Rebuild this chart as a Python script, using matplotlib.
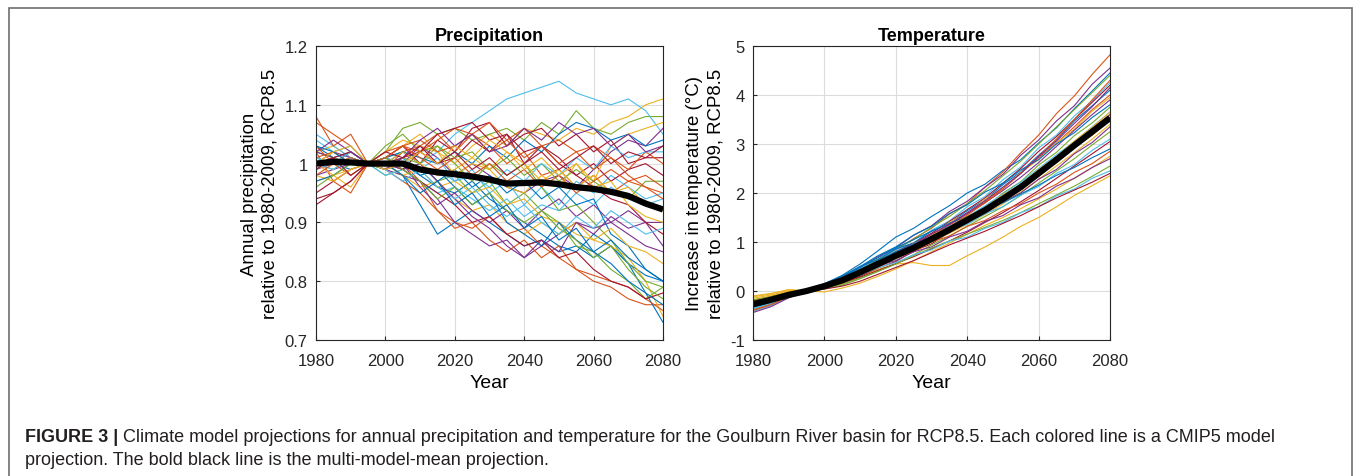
import matplotlib
matplotlib.use("Agg")
import matplotlib.pyplot as plt

plt.rcParams["font.family"] = ["Liberation Sans", "DejaVu Sans"]

# MATLAB default line colour order
COLORS = ["#0072BD", "#D95319", "#EDB120", "#7E2F8E", "#77AC30", "#4DBEEE", "#A2142F"]

years = list(range(1980, 2081, 5))

# ---- precipitation (ratio to 1980-2009), one row per CMIP5 model ----
precip_models = [
    [0.99, 1.01, 1.00, 1.00, 1.00, 0.98, 0.93, 0.88, 0.90, 0.92, 0.90, 0.88, 0.86, 0.87, 0.85, 0.86, 0.84, 0.86, 0.83, 0.81, 0.80],
    [1.07, 1.05, 1.03, 1.00, 0.99, 1.00, 0.97, 0.92, 0.90, 0.89, 0.91, 0.88, 0.89, 0.86, 0.84, 0.82, 0.80, 0.79, 0.77, 0.76, 0.76],
    [1.02, 1.03, 1.01, 1.00, 1.01, 1.03, 1.05, 1.02, 1.00, 1.03, 1.05, 1.03, 1.06, 1.05, 1.04, 1.06, 1.05, 1.07, 1.08, 1.10, 1.11],
    [0.98, 0.99, 1.00, 1.00, 0.99, 0.98, 0.97, 0.94, 0.90, 0.88, 0.86, 0.87, 0.84, 0.86, 0.88, 0.90, 0.89, 0.90, 0.88, 0.86, 0.85],
    [1.01, 1.00, 1.02, 1.00, 1.02, 1.06, 1.07, 1.05, 1.06, 1.04, 1.05, 1.06, 1.04, 1.07, 1.05, 1.09, 1.06, 1.05, 1.07, 1.08, 1.08],
    [1.05, 1.03, 1.01, 1.00, 1.01, 1.02, 1.00, 1.02, 1.05, 1.07, 1.09, 1.11, 1.12, 1.13, 1.14, 1.12, 1.11, 1.10, 1.11, 1.09, 1.05],
    [0.94, 0.95, 0.97, 1.00, 1.01, 1.03, 1.00, 1.04, 1.02, 1.06, 1.07, 1.03, 1.05, 1.06, 1.03, 1.05, 1.02, 1.04, 1.00, 1.01, 1.01],
    [1.03, 1.01, 1.02, 1.00, 0.99, 1.01, 0.98, 0.96, 0.95, 0.97, 0.94, 0.92, 0.90, 0.88, 0.86, 0.85, 0.88, 0.86, 0.83, 0.78, 0.73],
    [1.08, 1.03, 1.05, 1.00, 0.99, 1.02, 1.03, 1.05, 1.02, 1.05, 1.03, 1.00, 1.02, 0.98, 0.99, 0.96, 0.98, 0.95, 0.97, 0.96, 0.95],
    [0.97, 0.98, 0.96, 1.00, 1.00, 0.98, 0.96, 0.97, 0.94, 0.92, 0.93, 0.90, 0.88, 0.90, 0.88, 0.90, 0.87, 0.86, 0.84, 0.80, 0.74],
    [1.00, 1.02, 1.01, 1.00, 1.01, 1.00, 1.03, 1.01, 0.98, 1.00, 0.98, 0.96, 0.95, 0.97, 0.98, 0.96, 0.99, 1.02, 1.04, 1.03, 1.06],
    [1.00, 0.99, 1.01, 1.00, 0.98, 0.99, 1.00, 0.97, 0.98, 0.95, 0.97, 0.93, 0.95, 0.92, 0.90, 0.86, 0.85, 0.82, 0.80, 0.77, 0.79],
    [1.04, 1.02, 1.03, 1.00, 1.00, 1.01, 0.99, 1.01, 0.97, 0.99, 0.95, 0.97, 0.93, 0.96, 0.93, 0.97, 0.95, 0.98, 0.96, 0.94, 0.95],
    [0.93, 0.95, 0.97, 1.00, 1.01, 0.99, 1.02, 1.00, 1.01, 1.04, 1.02, 1.05, 1.00, 1.03, 1.01, 0.98, 1.00, 0.97, 0.99, 1.00, 0.98],
    [1.01, 1.00, 0.99, 1.00, 1.01, 1.02, 1.01, 1.00, 1.02, 1.00, 1.03, 1.01, 1.04, 1.02, 1.05, 1.07, 1.06, 1.04, 1.05, 1.03, 1.04],
    [1.02, 0.97, 0.95, 1.00, 0.99, 0.97, 0.95, 0.92, 0.89, 0.90, 0.87, 0.85, 0.87, 0.84, 0.86, 0.82, 0.81, 0.80, 0.79, 0.77, 0.75],
    [1.00, 1.02, 1.00, 1.00, 1.02, 1.04, 1.03, 1.02, 0.98, 1.00, 0.99, 0.96, 0.95, 0.98, 0.96, 1.00, 0.97, 1.03, 1.05, 1.06, 1.07],
    [0.99, 1.00, 1.02, 1.00, 0.99, 1.00, 0.96, 0.93, 0.95, 0.92, 0.90, 0.92, 0.89, 0.92, 0.94, 0.91, 0.93, 0.90, 0.92, 0.90, 0.90],
    [1.02, 1.01, 1.00, 1.00, 1.03, 1.05, 1.02, 1.03, 1.00, 0.97, 1.00, 0.98, 1.00, 0.96, 0.92, 0.93, 0.90, 0.87, 0.83, 0.80, 0.79],
    [1.00, 0.99, 1.01, 1.00, 0.98, 0.99, 0.97, 0.95, 0.96, 0.94, 0.92, 0.94, 0.91, 0.93, 0.92, 0.95, 0.93, 0.96, 0.94, 0.93, 0.94],
    [0.95, 0.97, 0.99, 1.00, 1.00, 0.99, 0.97, 0.95, 0.93, 0.90, 0.91, 0.88, 0.86, 0.87, 0.84, 0.85, 0.82, 0.80, 0.79, 0.77, 0.78],
    [1.00, 1.01, 1.00, 1.00, 1.00, 1.02, 1.00, 0.97, 0.99, 0.96, 0.98, 0.95, 0.97, 0.94, 0.96, 0.93, 0.94, 0.88, 0.86, 0.82, 0.80],
    [1.03, 1.00, 0.98, 1.00, 1.01, 1.03, 1.02, 1.04, 1.06, 1.05, 1.07, 1.04, 1.06, 1.03, 1.04, 1.02, 1.03, 1.01, 0.99, 1.02, 1.00],
    [0.98, 0.97, 0.99, 1.00, 1.00, 0.98, 0.99, 0.96, 0.97, 0.95, 0.96, 0.93, 0.94, 0.91, 0.90, 0.88, 0.87, 0.89, 0.86, 0.85, 0.83],
    [1.02, 1.01, 1.00, 1.00, 1.00, 0.99, 1.00, 0.97, 0.94, 0.91, 0.89, 0.86, 0.84, 0.87, 0.85, 0.90, 0.88, 0.91, 0.89, 0.90, 0.86],
    [0.99, 1.01, 1.00, 1.00, 0.99, 1.01, 1.00, 1.03, 1.01, 1.02, 0.99, 1.01, 0.98, 1.00, 0.97, 0.99, 0.97, 0.95, 0.94, 0.97, 0.97],
    [1.01, 1.00, 1.02, 1.00, 1.01, 1.00, 0.98, 0.99, 0.97, 0.98, 0.96, 0.99, 0.97, 1.00, 0.98, 1.01, 0.99, 1.03, 1.01, 1.02, 1.02],
    [1.00, 1.01, 1.02, 1.00, 1.00, 1.01, 1.02, 1.05, 1.06, 1.07, 1.04, 1.05, 1.02, 1.03, 1.00, 0.98, 0.96, 0.94, 0.93, 0.90, 0.88],
    [0.97, 0.98, 1.00, 1.00, 1.00, 1.00, 0.98, 0.99, 0.96, 0.93, 0.95, 0.90, 0.88, 0.86, 0.90, 0.87, 0.85, 0.87, 0.84, 0.82, 0.80],
    [1.01, 1.02, 1.00, 1.00, 1.02, 1.03, 1.04, 1.02, 1.03, 1.05, 1.02, 1.04, 1.01, 1.03, 1.00, 1.02, 0.99, 1.01, 0.98, 0.96, 0.94],
    [1.00, 0.98, 0.99, 1.00, 1.00, 1.02, 1.00, 0.98, 0.99, 1.01, 0.99, 1.02, 1.00, 0.97, 0.99, 0.96, 0.98, 0.95, 0.96, 0.93, 0.92],
    [1.02, 1.04, 1.02, 1.00, 0.99, 1.01, 1.04, 1.06, 1.03, 1.05, 1.02, 1.03, 1.06, 1.04, 1.07, 1.05, 1.06, 1.03, 1.05, 1.02, 1.03],
    [0.96, 0.98, 1.00, 1.00, 1.01, 0.99, 0.97, 0.94, 0.96, 0.93, 0.95, 0.92, 0.90, 0.92, 0.89, 0.87, 0.84, 0.86, 0.82, 0.79, 0.77],
    [1.01, 1.00, 1.01, 1.00, 0.99, 0.97, 0.99, 0.96, 0.94, 0.96, 0.93, 0.91, 0.93, 0.90, 0.88, 0.91, 0.89, 0.92, 0.90, 0.88, 0.89],
    [0.99, 1.01, 0.98, 1.00, 1.02, 1.01, 1.03, 1.00, 1.02, 0.99, 1.01, 0.98, 1.00, 1.02, 0.99, 1.01, 1.03, 1.00, 1.02, 1.01, 1.03],
    [1.03, 1.02, 1.00, 1.00, 1.00, 0.98, 0.95, 0.97, 0.93, 0.95, 0.91, 0.93, 0.89, 0.91, 0.87, 0.89, 0.85, 0.83, 0.80, 0.78, 0.76],
    [0.98, 1.00, 1.01, 1.00, 1.01, 1.03, 1.01, 0.99, 1.01, 0.98, 1.00, 0.97, 0.99, 0.96, 0.98, 0.95, 0.97, 0.99, 0.97, 0.98, 0.96],
    [1.00, 1.02, 1.03, 1.00, 0.99, 1.00, 1.02, 1.00, 1.03, 1.01, 1.04, 1.02, 0.99, 1.01, 0.98, 1.00, 0.96, 0.97, 0.93, 0.91, 0.90],
]
precip_mean = [1.000, 1.003, 1.002, 1.000, 1.000, 1.000, 0.990, 0.985, 0.982, 0.978, 0.973,
               0.966, 0.967, 0.968, 0.965, 0.960, 0.957, 0.952, 0.945, 0.932, 0.922]

# ---- temperature increase (degC), one row per CMIP5 model ----
temp_models = [
    [-0.25, -0.15, -0.05, 0.00, 0.15, 0.32, 0.55, 0.82, 1.10, 1.28, 1.52, 1.74, 2.00, 2.18, 2.46, 2.68, 3.02, 3.33, 3.72, 4.08, 4.45],
    [-0.30, -0.20, -0.05, 0.00, 0.10, 0.25, 0.42, 0.64, 0.83, 1.07, 1.28, 1.57, 1.78, 2.12, 2.43, 2.82, 3.18, 3.62, 3.98, 4.42, 4.82],
    [-0.10, -0.05, 0.02, 0.00, 0.06, 0.16, 0.30, 0.44, 0.55, 0.58, 0.52, 0.52, 0.72, 0.90, 1.10, 1.32, 1.50, 1.72, 1.95, 2.15, 2.35],
    [-0.35, -0.22, -0.08, 0.01, 0.12, 0.28, 0.48, 0.70, 0.88, 1.14, 1.33, 1.62, 1.83, 2.12, 2.38, 2.77, 3.08, 3.47, 3.78, 4.22, 4.55],
    [-0.40, -0.28, -0.10, 0.02, 0.10, 0.25, 0.45, 0.65, 0.85, 1.05, 1.30, 1.52, 1.78, 2.05, 2.35, 2.65, 3.00, 3.35, 3.70, 4.05, 4.40],
    [-0.30, -0.20, -0.06, 0.00, 0.12, 0.26, 0.46, 0.60, 0.84, 0.98, 1.24, 1.43, 1.72, 1.93, 2.27, 2.53, 2.92, 3.18, 3.57, 3.88, 4.25],
    [-0.20, -0.12, -0.02, 0.00, 0.10, 0.24, 0.40, 0.60, 0.80, 0.98, 1.18, 1.42, 1.66, 1.90, 2.20, 2.50, 2.85, 3.15, 3.50, 3.85, 4.20],
    [-0.35, -0.25, -0.10, 0.00, 0.14, 0.30, 0.50, 0.64, 0.86, 0.98, 1.22, 1.38, 1.64, 1.86, 2.17, 2.43, 2.77, 3.08, 3.47, 3.78, 4.10],
    [-0.28, -0.18, -0.05, 0.01, 0.10, 0.22, 0.38, 0.56, 0.74, 0.92, 1.12, 1.34, 1.58, 1.82, 2.10, 2.40, 2.72, 3.02, 3.35, 3.70, 4.00],
    [-0.15, -0.08, 0.00, 0.00, 0.08, 0.20, 0.36, 0.57, 0.73, 0.97, 1.13, 1.40, 1.58, 1.87, 2.10, 2.42, 2.68, 3.02, 3.30, 3.67, 3.95],
    [-0.32, -0.22, -0.08, 0.00, 0.12, 0.25, 0.42, 0.60, 0.78, 0.96, 1.15, 1.36, 1.58, 1.80, 2.05, 2.32, 2.62, 2.95, 3.28, 3.60, 3.90],
    [-0.25, -0.18, -0.06, 0.01, 0.10, 0.22, 0.39, 0.51, 0.72, 0.86, 1.10, 1.26, 1.52, 1.70, 2.00, 2.23, 2.57, 2.83, 3.17, 3.43, 3.75],
    [-0.42, -0.30, -0.12, 0.00, 0.10, 0.20, 0.35, 0.52, 0.70, 0.90, 1.10, 1.32, 1.52, 1.74, 1.98, 2.22, 2.50, 2.78, 3.05, 3.35, 3.65],
    [-0.22, -0.14, -0.04, 0.00, 0.06, 0.16, 0.30, 0.47, 0.60, 0.82, 0.96, 1.20, 1.38, 1.64, 1.86, 2.17, 2.43, 2.74, 2.98, 3.32, 3.60],
    [-0.30, -0.20, -0.06, 0.00, 0.12, 0.26, 0.44, 0.62, 0.80, 0.96, 1.12, 1.30, 1.48, 1.68, 1.90, 2.14, 2.40, 2.68, 2.95, 3.25, 3.55],
    [-0.38, -0.26, -0.10, 0.01, 0.08, 0.18, 0.32, 0.48, 0.66, 0.80, 1.02, 1.18, 1.44, 1.60, 1.88, 2.08, 2.38, 2.62, 2.94, 3.18, 3.50],
    [-0.18, -0.10, -0.02, 0.00, 0.08, 0.20, 0.34, 0.50, 0.66, 0.82, 1.00, 1.18, 1.36, 1.56, 1.78, 2.02, 2.28, 2.55, 2.82, 3.10, 3.40],
    [-0.30, -0.20, -0.08, 0.00, 0.10, 0.22, 0.40, 0.52, 0.74, 0.88, 1.10, 1.23, 1.44, 1.58, 1.82, 2.00, 2.28, 2.48, 2.80, 3.03, 3.35],
    [-0.26, -0.16, -0.04, 0.00, 0.04, 0.12, 0.25, 0.40, 0.56, 0.74, 0.94, 1.12, 1.32, 1.52, 1.72, 1.95, 2.20, 2.45, 2.70, 2.98, 3.25],
    [-0.35, -0.24, -0.09, 0.00, 0.10, 0.22, 0.38, 0.57, 0.70, 0.90, 1.03, 1.24, 1.36, 1.58, 1.72, 1.96, 2.13, 2.40, 2.58, 2.87, 3.10],
    [-0.20, -0.12, -0.03, 0.00, 0.06, 0.16, 0.28, 0.42, 0.56, 0.70, 0.86, 1.02, 1.20, 1.40, 1.60, 1.82, 2.05, 2.30, 2.55, 2.80, 3.05],
    [-0.28, -0.20, -0.07, 0.00, 0.12, 0.28, 0.48, 0.68, 0.88, 1.05, 1.22, 1.38, 1.52, 1.66, 1.80, 1.98, 2.16, 2.36, 2.52, 2.72, 2.90],
    [-0.40, -0.28, -0.12, 0.00, 0.08, 0.20, 0.36, 0.48, 0.68, 0.80, 1.00, 1.12, 1.32, 1.44, 1.64, 1.78, 2.00, 2.18, 2.42, 2.60, 2.85],
    [-0.22, -0.15, -0.05, 0.00, -0.02, 0.06, 0.16, 0.30, 0.45, 0.62, 0.80, 0.98, 1.16, 1.34, 1.50, 1.68, 1.88, 2.08, 2.30, 2.52, 2.75],
    [-0.32, -0.22, -0.08, 0.01, 0.10, 0.22, 0.36, 0.52, 0.62, 0.80, 0.90, 1.10, 1.22, 1.42, 1.54, 1.76, 1.90, 2.14, 2.30, 2.52, 2.70],
    [-0.18, -0.12, -0.03, 0.00, 0.06, 0.14, 0.26, 0.40, 0.55, 0.72, 0.88, 1.02, 1.16, 1.30, 1.44, 1.60, 1.78, 1.96, 2.14, 2.34, 2.55],
    [-0.36, -0.25, -0.10, 0.00, 0.10, 0.20, 0.32, 0.48, 0.58, 0.74, 0.84, 1.02, 1.10, 1.28, 1.40, 1.60, 1.72, 1.94, 2.08, 2.30, 2.45],
    [-0.30, -0.20, -0.07, 0.00, 0.04, 0.10, 0.20, 0.34, 0.48, 0.62, 0.78, 0.94, 1.08, 1.22, 1.38, 1.54, 1.72, 1.90, 2.06, 2.22, 2.40],
    [-0.33, -0.23, -0.08, 0.00, 0.14, 0.30, 0.50, 0.72, 0.90, 1.14, 1.32, 1.58, 1.76, 2.02, 2.20, 2.47, 2.68, 3.00, 3.23, 3.54, 3.80],
    [-0.27, -0.18, -0.05, 0.00, 0.10, 0.22, 0.36, 0.52, 0.70, 0.88, 1.08, 1.30, 1.55, 1.80, 2.08, 2.40, 2.75, 3.10, 3.50, 3.90, 4.30],
    [-0.12, -0.06, 0.03, 0.00, 0.09, 0.22, 0.40, 0.56, 0.76, 0.92, 1.14, 1.30, 1.52, 1.70, 1.96, 2.18, 2.48, 2.74, 3.06, 3.34, 3.65],
    [-0.44, -0.32, -0.14, -0.01, 0.11, 0.24, 0.40, 0.58, 0.76, 0.94, 1.16, 1.36, 1.60, 1.84, 2.12, 2.40, 2.74, 3.06, 3.42, 3.76, 4.15],
]
temp_mean = [-0.27, -0.18, -0.08, 0.00, 0.10, 0.22, 0.38, 0.55, 0.72, 0.88, 1.06,
             1.25, 1.45, 1.65, 1.88, 2.12, 2.40, 2.68, 2.97, 3.25, 3.53]

year_ticks = [1980, 2000, 2020, 2040, 2060, 2080]
precip_ticks = [0.7, 0.8, 0.9, 1.0, 1.1, 1.2]
precip_ticklabels = ["0.7", "0.8", "0.9", "1", "1.1", "1.2"]
temp_ticks = [-1, 0, 1, 2, 3, 4, 5]

W, H = 1355, 477
fig = plt.figure(figsize=(W / 100, H / 100), dpi=100)

# thin frame round the figure block
fig.add_artist(plt.Rectangle((9 / W, -0.05), (1352 - 9) / W, 1.05 - 9 / H,
                             transform=fig.transFigure, fill=False,
                             edgecolor="#6e6e6e", linewidth=1.2))


def style_axes(ax):
    for s in ax.spines.values():
        s.set_color("#262626")
        s.set_linewidth(0.8)
    ax.tick_params(direction="in", length=3, width=0.8, colors="#262626",
                   labelsize=12, top=False, right=False)
    ax.tick_params(axis="x", pad=9)
    ax.tick_params(axis="y", pad=6)
    ax.grid(True, color="#dcdcdc", linewidth=0.8)
    ax.set_axisbelow(True)


def draw_panel(rect, models, mean, ylim, yticks, yticklabels, title, ylabel):
    ax = fig.add_axes(rect)
    for i, m in enumerate(models):
        ax.plot(years, m, color=COLORS[i % len(COLORS)], linewidth=0.8)
    ax.plot(years, mean, color="black", linewidth=4.5, solid_capstyle="butt")
    ax.set_xlim(1980, 2080)
    ax.set_ylim(*ylim)
    ax.set_xticks(year_ticks)
    ax.set_yticks(yticks)
    ax.set_yticklabels(yticklabels)
    style_axes(ax)
    ax.set_title(title, fontsize=13, fontweight="bold", pad=4)
    ax.set_xlabel("Year", fontsize=14, labelpad=5)
    ax.set_ylabel(ylabel, fontsize=13.4, labelpad=4, linespacing=1.3)
    return ax


draw_panel([316 / W, 1 - 341 / H, (663 - 316) / W, (341 - 47) / H],
           precip_models, precip_mean, (0.7, 1.2), precip_ticks, precip_ticklabels,
           "Precipitation", "Annual precipitation\nrelative to 1980-2009, RCP8.5")
draw_panel([753 / W, 1 - 341 / H, (1110 - 753) / W, (341 - 47) / H],
           temp_models, temp_mean, (-1, 5), temp_ticks, [str(t) for t in temp_ticks],
           "Temperature", "Increase in temperature (\u00b0C)\nrelative to 1980-2009, RCP8.5")

# caption
cap_kw = dict(fontsize=13, color="#231f20", va="baseline")
t = fig.text(25 / W, 1 - 442 / H, "FIGURE 3 | ", fontweight="bold", **cap_kw)
fig.canvas.draw()
bb = t.get_window_extent()
fig.text(bb.x1 / W, 1 - 442 / H,
         "Climate model projections for annual precipitation and temperature for the "
         "Goulburn River basin for RCP8.5. Each colored line is a CMIP5 model", **cap_kw)
fig.text(25 / W, 1 - 465 / H,
         "projection. The bold black line is the multi-model-mean projection.", **cap_kw)

fig.savefig("out.png", dpi=100)
